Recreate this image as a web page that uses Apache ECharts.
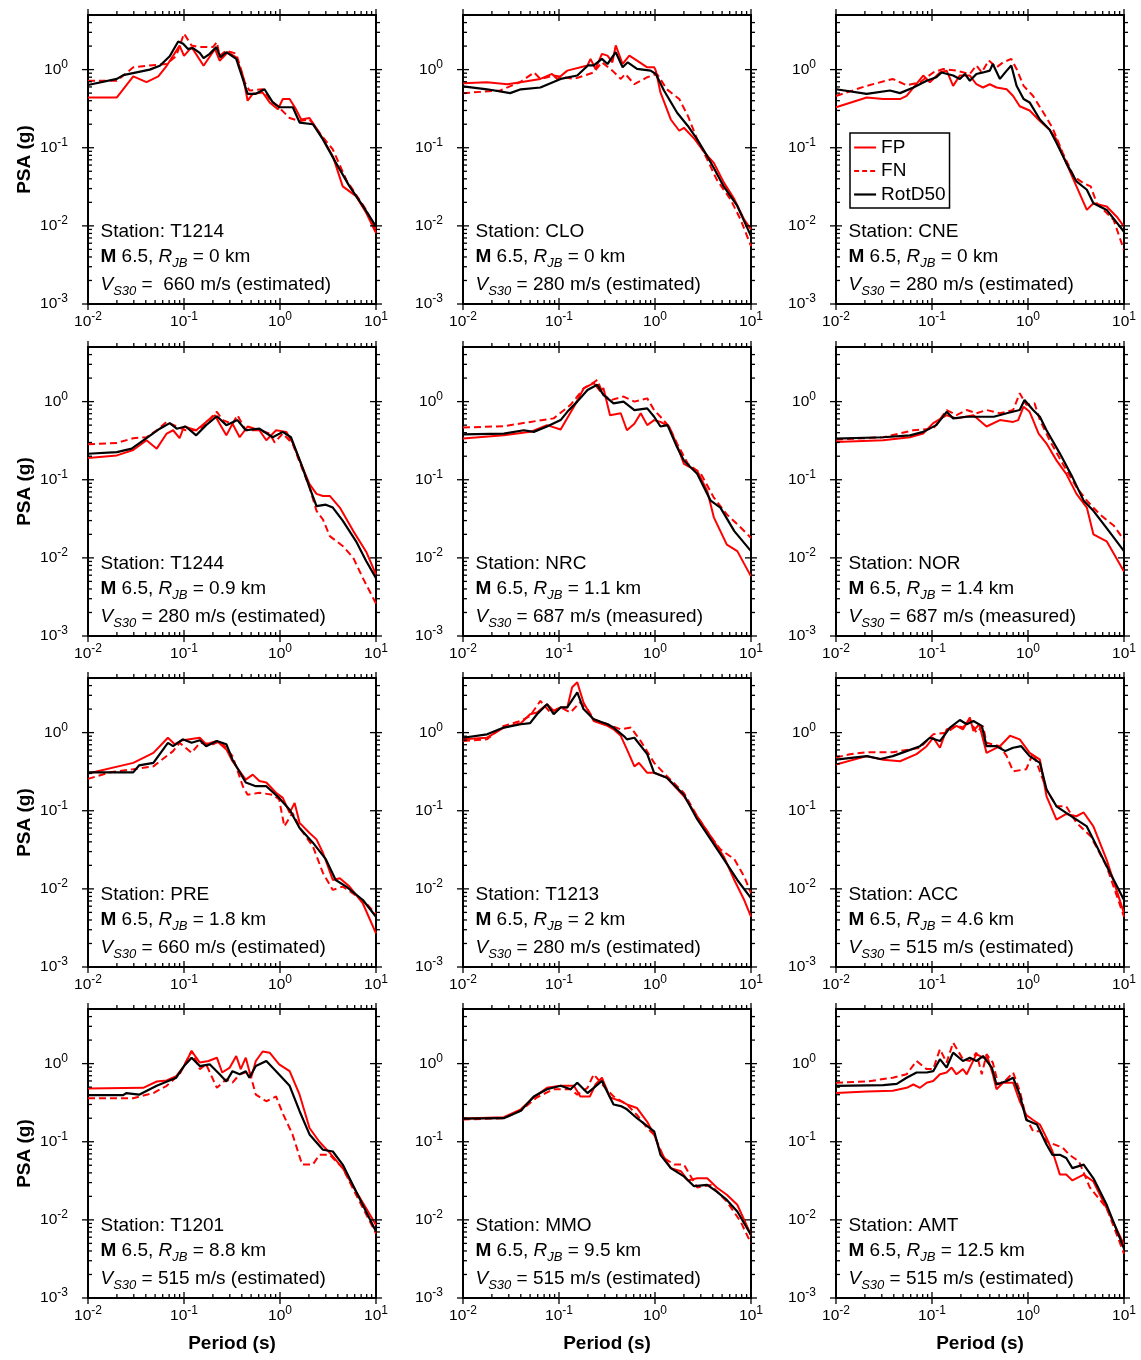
<!DOCTYPE html>
<html><head><meta charset="utf-8">
<script src="https://cdn.jsdelivr.net/npm/echarts@6/dist/echarts.min.js"></script>
<style>html,body{margin:0;padding:0;background:#fff}#c{width:1141px;height:1360px}</style>
</head><body><div id="c"></div><script>
// ---------------- DATA ----------------
const stations = ['T1214','CLO','CNE','T1244','NRC','NOR','PRE','T1213','ACC','T1201','MMO','AMT'];
const rjbKm = ['0','0','0','0.9','1.1','1.4','1.8','2','4.6','8.8','9.5','12.5'];
const vs30 = ['660','280','280','280','687','687','660','280','515','515','515','515'];
const vs30Kind = ['estimated','estimated','estimated','estimated','measured','measured','estimated','estimated','estimated','estimated','estimated','estimated'];
const seriesNames = ['FP','FN','RotD50'];
const xTickValues = [0.01, 0.1, 1, 10];
const yTickValues = [0.001, 0.01, 0.1, 1];

const T1214_FP = [[0.01,0.44],[0.02,0.44],[0.0296,0.82],[0.0407,0.69],[0.054,0.82],[0.066,1.12],[0.09,2.03],[0.1,1.5],[0.12,1.94],[0.16,1.12],[0.21,1.84],[0.235,1.3],[0.286,1.67],[0.35,1.44],[0.41,0.84],[0.46,0.40],[0.52,0.49],[0.66,0.51],[0.78,0.38],[0.95,0.31],[1.07,0.42],[1.26,0.42],[1.47,0.31],[1.66,0.23],[2.03,0.24],[2.57,0.156],[3.55,0.078],[4.5,0.032],[6.2,0.024],[7.9,0.0147],[10,0.0081]];
const T1214_FN = [[0.01,0.72],[0.02,0.72],[0.0296,1.07],[0.0407,1.12],[0.066,1.18],[0.083,1.5],[0.1,2.9],[0.12,2.03],[0.146,1.94],[0.2,1.94],[0.22,2.25],[0.235,1.5],[0.276,1.75],[0.35,1.6],[0.43,0.69],[0.48,0.54],[0.66,0.56],[0.78,0.42],[0.95,0.34],[1.26,0.24],[1.6,0.22],[2.03,0.23],[2.57,0.156],[3.55,0.095],[4.9,0.039],[6.2,0.025],[7.9,0.016],[10,0.0089]];
const T1214_RotD50 = [[0.01,0.635],[0.02,0.76],[0.0233,0.85],[0.044,1.0],[0.056,1.12],[0.071,1.48],[0.087,2.29],[0.098,2.14],[0.11,1.84],[0.124,1.88],[0.146,1.64],[0.16,1.4],[0.185,1.59],[0.217,1.94],[0.24,1.44],[0.276,1.67],[0.35,1.37],[0.41,0.76],[0.46,0.49],[0.56,0.49],[0.69,0.56],[0.84,0.38],[0.98,0.33],[1.36,0.33],[1.6,0.21],[2.2,0.2],[2.8,0.128],[3.8,0.065],[5.3,0.032],[7.3,0.018],[10,0.0098]];

const CLO_FP = [[0.01,0.67],[0.0178,0.69],[0.029,0.65],[0.0397,0.69],[0.064,0.76],[0.0846,0.88],[0.0958,0.76],[0.122,0.97],[0.198,1.13],[0.213,1.37],[0.24,1.02],[0.28,1.59],[0.32,1.51],[0.36,1.24],[0.39,2.04],[0.46,1.18],[0.54,1.51],[0.61,1.37],[0.83,1.07],[0.98,1.07],[1.02,0.97],[1.14,0.51],[1.46,0.23],[1.79,0.165],[2.0,0.18],[2.6,0.128],[3.3,0.086],[4.1,0.064],[5.2,0.036],[6.7,0.022],[8.5,0.012],[10,0.009]];
const CLO_FN = [[0.01,0.50],[0.0245,0.54],[0.04,0.70],[0.055,0.92],[0.064,0.76],[0.088,0.84],[0.143,0.76],[0.23,0.92],[0.28,1.24],[0.36,0.97],[0.44,0.76],[0.49,0.88],[0.61,0.65],[0.83,0.80],[1.05,0.88],[1.33,0.56],[1.79,0.42],[2.2,0.256],[2.75,0.128],[3.5,0.071],[4.4,0.039],[6.1,0.022],[7.8,0.012],[10,0.0055]];
const CLO_RotD50 = [[0.01,0.61],[0.0178,0.56],[0.031,0.50],[0.04,0.56],[0.064,0.59],[0.104,0.76],[0.155,0.84],[0.2,1.13],[0.23,1.13],[0.28,1.37],[0.32,1.18],[0.39,1.67],[0.46,1.07],[0.52,1.24],[0.65,1.02],[0.9,0.97],[1.02,0.88],[1.24,0.54],[1.7,0.28],[2.2,0.19],[2.75,0.128],[3.5,0.078],[4.1,0.055],[5.2,0.032],[7.2,0.018],[10,0.0074]];

const CNE_FP = [[0.01,0.33],[0.0209,0.44],[0.031,0.42],[0.0464,0.42],[0.0544,0.46],[0.064,0.59],[0.081,0.84],[0.095,0.69],[0.121,0.92],[0.142,0.97],[0.166,0.62],[0.195,0.84],[0.248,0.84],[0.29,0.65],[0.34,0.59],[0.4,0.65],[0.47,0.59],[0.6,0.56],[0.70,0.46],[0.82,0.34],[1.04,0.30],[1.33,0.22],[1.68,0.17],[1.98,0.128],[2.5,0.064],[3.2,0.032],[4.1,0.016],[4.8,0.0195],[6.6,0.0177],[8.4,0.0131],[10,0.0098]];
const CNE_FN = [[0.01,0.46],[0.0209,0.62],[0.039,0.76],[0.0544,0.63],[0.075,0.69],[0.103,0.92],[0.131,1.02],[0.18,0.97],[0.248,0.88],[0.29,1.13],[0.33,0.92],[0.39,1.31],[0.47,1.07],[0.55,1.24],[0.67,1.37],[0.76,1.02],[0.9,0.62],[1.13,0.46],[1.45,0.28],[1.8,0.18],[2.3,0.086],[3.0,0.043],[3.8,0.035],[4.5,0.032],[5.2,0.0195],[7.8,0.0119],[10,0.0049]];
const CNE_RotD50 = [[0.01,0.56],[0.0209,0.49],[0.0365,0.54],[0.0464,0.50],[0.064,0.59],[0.088,0.72],[0.111,0.80],[0.126,0.92],[0.166,0.84],[0.195,0.76],[0.22,0.88],[0.248,0.72],[0.29,0.88],[0.34,0.92],[0.4,0.97],[0.43,1.18],[0.51,0.76],[0.6,0.97],[0.67,1.13],[0.76,0.62],[0.9,0.42],[1.04,0.38],[1.33,0.23],[1.68,0.17],[1.98,0.116],[2.5,0.064],[3.2,0.037],[4.1,0.029],[4.8,0.0195],[6.6,0.016],[10,0.0084]];

const T1244_FP = [[0.01,0.19],[0.02,0.205],[0.0296,0.24],[0.0407,0.32],[0.052,0.25],[0.066,0.39],[0.077,0.43],[0.09,0.34],[0.1,0.48],[0.134,0.43],[0.17,0.55],[0.21,0.67],[0.235,0.52],[0.276,0.37],[0.32,0.52],[0.38,0.35],[0.46,0.48],[0.61,0.43],[0.72,0.32],[0.91,0.43],[1.16,0.41],[1.35,0.30],[1.66,0.16],[2.03,0.088],[2.4,0.066],[2.8,0.062],[3.3,0.062],[4.2,0.044],[5.8,0.022],[7.9,0.012],[10,0.0061]];
const T1244_FN = [[0.01,0.284],[0.02,0.296],[0.0296,0.34],[0.0407,0.35],[0.052,0.43],[0.066,0.55],[0.084,0.48],[0.104,0.43],[0.142,0.43],[0.18,0.58],[0.22,0.74],[0.253,0.58],[0.32,0.52],[0.36,0.67],[0.44,0.43],[0.61,0.43],[0.78,0.39],[0.88,0.30],[1.07,0.39],[1.35,0.29],[1.66,0.15],[2.03,0.080],[2.4,0.040],[2.8,0.031],[3.3,0.019],[4.5,0.0142],[5.8,0.0100],[7.3,0.0055],[10,0.0026]];
const T1244_RotD50 = [[0.01,0.215],[0.02,0.226],[0.0285,0.25],[0.0407,0.34],[0.056,0.45],[0.071,0.53],[0.084,0.45],[0.104,0.48],[0.134,0.37],[0.17,0.50],[0.22,0.65],[0.276,0.50],[0.36,0.58],[0.44,0.43],[0.61,0.45],[0.84,0.35],[1.07,0.41],[1.3,0.35],[1.66,0.16],[2.03,0.080],[2.4,0.046],[3.0,0.048],[3.55,0.044],[4.5,0.030],[6.2,0.0163],[7.9,0.0091],[10,0.0055]];

const NRC_FP = [[0.01,0.336],[0.0266,0.37],[0.0504,0.41],[0.075,0.50],[0.104,0.44],[0.143,0.86],[0.182,1.49],[0.23,1.72],[0.27,1.35],[0.29,1.49],[0.34,0.67],[0.44,0.71],[0.51,0.43],[0.61,0.52],[0.71,0.71],[0.83,0.50],[0.98,0.58],[1.14,0.55],[1.4,0.48],[1.7,0.276],[2.0,0.16],[2.35,0.143],[2.75,0.131],[3.5,0.072],[4.1,0.033],[5.6,0.0148],[7.2,0.0122],[10,0.0058]];
const NRC_FN = [[0.01,0.466],[0.0266,0.485],[0.0504,0.55],[0.088,0.61],[0.132,0.91],[0.182,1.49],[0.23,1.76],[0.25,1.9],[0.29,1.22],[0.35,1.05],[0.47,1.16],[0.61,1.0],[0.83,1.10],[0.98,0.78],[1.14,0.64],[1.4,0.48],[1.7,0.29],[2.2,0.16],[3.0,0.12],[4.1,0.059],[5.6,0.036],[7.8,0.0245],[10,0.018]];
const NRC_RotD50 = [[0.01,0.38],[0.0266,0.39],[0.043,0.43],[0.0546,0.41],[0.075,0.48],[0.104,0.58],[0.122,0.74],[0.155,1.0],[0.198,1.41],[0.25,1.64],[0.29,1.22],[0.37,0.95],[0.47,1.0],[0.61,0.78],[0.83,0.82],[0.98,0.64],[1.14,0.48],[1.35,0.5],[1.7,0.26],[2.0,0.176],[2.75,0.119],[3.8,0.054],[4.8,0.044],[6.7,0.022],[10,0.0122]];

const NOR_FP = [[0.01,0.305],[0.031,0.32],[0.059,0.35],[0.081,0.39],[0.103,0.53],[0.142,0.67],[0.18,0.61],[0.27,0.67],[0.37,0.48],[0.51,0.58],[0.70,0.55],[0.79,0.58],[0.9,0.86],[1.04,0.74],[1.13,0.58],[1.29,0.39],[1.56,0.29],[1.98,0.177],[2.5,0.119],[3.2,0.066],[4.1,0.044],[4.8,0.020],[6.6,0.0163],[10,0.0067]];
const NOR_FN = [[0.01,0.326],[0.031,0.35],[0.064,0.43],[0.103,0.45],[0.142,0.78],[0.18,0.67],[0.23,0.78],[0.29,0.71],[0.37,0.78],[0.51,0.71],[0.70,0.78],[0.82,1.28],[0.96,0.91],[1.17,0.95],[1.33,0.58],[1.68,0.32],[2.3,0.16],[3.2,0.080],[4.1,0.054],[5.6,0.036],[7.8,0.026],[10,0.017]];
const NOR_RotD50 = [[0.01,0.336],[0.031,0.35],[0.059,0.37],[0.081,0.41],[0.111,0.50],[0.142,0.74],[0.166,0.61],[0.23,0.64],[0.32,0.64],[0.44,0.64],[0.6,0.71],[0.82,0.78],[0.92,1.05],[1.13,0.78],[1.33,0.64],[1.56,0.43],[2.15,0.216],[2.9,0.108],[3.8,0.054],[4.8,0.040],[6.6,0.024],[10,0.0122]];

const PRE_FP = [[0.01,0.30],[0.0296,0.41],[0.048,0.55],[0.068,0.86],[0.08,0.71],[0.097,0.80],[0.146,0.86],[0.17,0.71],[0.22,0.78],[0.276,0.61],[0.32,0.43],[0.44,0.25],[0.52,0.29],[0.61,0.24],[0.72,0.23],[0.91,0.17],[1.07,0.146],[1.26,0.094],[1.42,0.126],[1.6,0.070],[2.03,0.052],[2.4,0.043],[2.8,0.029],[3.55,0.013],[4.2,0.0137],[5.3,0.0107],[7.3,0.0065],[10,0.0027]];
const PRE_FN = [[0.01,0.256],[0.017,0.31],[0.0296,0.34],[0.048,0.37],[0.077,0.58],[0.09,0.74],[0.12,0.55],[0.146,0.74],[0.2,0.71],[0.24,0.78],[0.32,0.50],[0.41,0.206],[0.46,0.16],[0.61,0.17],[0.84,0.16],[0.98,0.139],[1.11,0.063],[1.35,0.094],[1.66,0.057],[2.2,0.035],[2.8,0.016],[3.55,0.0097],[4.5,0.0107],[5.8,0.0087],[7.9,0.0065],[10,0.0048]];
const PRE_RotD50 = [[0.01,0.31],[0.0296,0.31],[0.034,0.38],[0.048,0.41],[0.068,0.74],[0.077,0.67],[0.097,0.82],[0.12,0.74],[0.146,0.8],[0.17,0.67],[0.22,0.78],[0.276,0.71],[0.32,0.45],[0.44,0.23],[0.56,0.206],[0.72,0.206],[0.98,0.146],[1.26,0.103],[1.6,0.060],[2.2,0.039],[3.0,0.024],[3.8,0.013],[4.9,0.0107],[7.3,0.0072],[10,0.0044]];

const T1213_FP = [[0.01,0.82],[0.0178,0.86],[0.0266,1.16],[0.04,1.32],[0.05,1.72],[0.059,1.81],[0.075,2.31],[0.088,1.9],[0.104,2.1],[0.122,2.1],[0.137,3.8],[0.155,4.4],[0.18,2.43],[0.23,1.41],[0.32,1.22],[0.37,1.1],[0.44,0.91],[0.51,0.61],[0.61,0.37],[0.68,0.41],[0.83,0.306],[0.98,0.306],[1.33,0.264],[2.0,0.153],[2.75,0.085],[3.8,0.047],[5.2,0.026],[6.7,0.0130],[8.5,0.0072],[10,0.0044]];
const T1213_FN = [[0.01,0.78],[0.0178,0.82],[0.0266,1.22],[0.04,1.41],[0.05,1.64],[0.064,2.55],[0.081,1.81],[0.104,2.1],[0.132,1.81],[0.165,2.43],[0.198,2.0],[0.23,1.48],[0.32,1.28],[0.44,1.1],[0.56,1.16],[0.71,0.78],[0.98,0.41],[1.33,0.277],[2.0,0.169],[2.75,0.085],[3.8,0.047],[4.8,0.032],[6.7,0.024],[8.5,0.0144],[10,0.0088]];
const T1213_RotD50 = [[0.01,0.86],[0.0178,0.95],[0.0266,1.16],[0.04,1.28],[0.05,1.32],[0.059,1.72],[0.075,2.31],[0.088,1.72],[0.104,2.1],[0.122,2.1],[0.155,3.27],[0.18,2.0],[0.23,1.48],[0.32,1.28],[0.37,1.16],[0.47,0.91],[0.51,0.82],[0.61,0.86],[0.83,0.53],[0.98,0.306],[1.33,0.264],[2.0,0.16],[2.75,0.078],[3.8,0.043],[5.2,0.024],[7.2,0.0130],[10,0.0076]];

const ACC_FP = [[0.01,0.39],[0.0209,0.50],[0.031,0.45],[0.0464,0.43],[0.069,0.53],[0.088,0.67],[0.103,0.86],[0.121,0.64],[0.142,1.10],[0.18,1.22],[0.21,1.1],[0.248,1.56],[0.27,1.05],[0.31,1.28],[0.37,0.55],[0.51,0.67],[0.65,0.91],[0.82,0.82],[1.04,0.55],[1.33,0.45],[1.56,0.153],[1.98,0.077],[2.5,0.091],[3.2,0.085],[3.8,0.095],[4.8,0.063],[6.6,0.0235],[10,0.0049]];
const ACC_FN = [[0.01,0.48],[0.014,0.53],[0.0209,0.56],[0.039,0.56],[0.059,0.61],[0.075,0.64],[0.103,0.95],[0.142,1.0],[0.18,1.22],[0.21,1.16],[0.248,1.48],[0.29,1.0],[0.34,1.22],[0.37,0.74],[0.51,0.67],[0.6,0.50],[0.70,0.32],[0.96,0.34],[1.13,0.55],[1.56,0.187],[1.98,0.114],[2.5,0.114],[3.2,0.070],[4.5,0.047],[6.6,0.0193],[10,0.0044]];
const ACC_RotD50 = [[0.01,0.45],[0.0209,0.50],[0.029,0.46],[0.039,0.50],[0.0544,0.58],[0.075,0.67],[0.095,0.86],[0.121,0.78],[0.154,1.16],[0.195,1.45],[0.23,1.28],[0.27,1.41],[0.33,1.22],[0.37,0.67],[0.47,0.67],[0.58,0.58],[0.70,0.64],[0.85,0.67],[1.04,0.50],[1.33,0.41],[1.56,0.187],[1.98,0.114],[2.5,0.094],[3.2,0.077],[4.1,0.063],[5.2,0.035],[7.2,0.0158],[10,0.0072]];

const T1201_FP = [[0.01,0.48],[0.0376,0.49],[0.052,0.59],[0.066,0.61],[0.083,0.69],[0.1,0.93],[0.12,1.45],[0.146,1.03],[0.18,1.08],[0.22,1.19],[0.25,0.77],[0.3,0.89],[0.35,1.25],[0.39,0.85],[0.44,1.19],[0.5,0.66],[0.56,1.08],[0.66,1.43],[0.78,1.38],[0.98,0.98],[1.26,0.80],[1.6,0.40],[2.03,0.15],[2.57,0.10],[3.3,0.072],[4.5,0.046],[6.2,0.023],[7.9,0.0141],[10,0.0086]];
const T1201_FN = [[0.01,0.36],[0.0296,0.36],[0.048,0.42],[0.066,0.52],[0.09,0.73],[0.12,1.45],[0.146,0.85],[0.17,0.98],[0.22,0.49],[0.276,0.63],[0.32,0.57],[0.38,0.73],[0.48,0.80],[0.56,0.40],[0.72,0.33],[0.91,0.38],[1.07,0.23],[1.35,0.124],[1.7,0.051],[2.2,0.051],[2.57,0.068],[3.3,0.068],[4.5,0.046],[6.2,0.021],[10,0.0067]];
const T1201_RotD50 = [[0.01,0.395],[0.0233,0.395],[0.025,0.42],[0.034,0.40],[0.052,0.52],[0.083,0.66],[0.1,0.93],[0.12,1.19],[0.146,0.93],[0.185,0.98],[0.235,0.73],[0.276,0.59],[0.32,0.8],[0.38,0.73],[0.44,0.8],[0.48,0.66],[0.56,0.93],[0.72,1.08],[0.91,0.80],[1.26,0.52],[1.6,0.246],[2.03,0.124],[2.8,0.079],[3.55,0.075],[4.5,0.051],[6.2,0.023],[10,0.0071]];

const MMO_FP = [[0.01,0.198],[0.0266,0.206],[0.04,0.26],[0.0546,0.37],[0.075,0.49],[0.104,0.52],[0.143,0.52],[0.167,0.38],[0.21,0.38],[0.24,0.54],[0.28,0.66],[0.34,0.37],[0.44,0.33],[0.51,0.30],[0.65,0.27],[0.83,0.18],[0.98,0.123],[1.14,0.075],[1.46,0.046],[1.86,0.042],[2.2,0.032],[2.75,0.034],[3.5,0.034],[4.4,0.026],[5.6,0.021],[7.2,0.0156],[10,0.0064]];
const MMO_FN = [[0.01,0.192],[0.0266,0.2],[0.04,0.25],[0.059,0.37],[0.088,0.47],[0.132,0.47],[0.155,0.40],[0.198,0.49],[0.23,0.73],[0.29,0.52],[0.37,0.38],[0.51,0.30],[0.65,0.22],[0.83,0.15],[0.98,0.123],[1.24,0.062],[1.59,0.051],[2.0,0.051],[2.75,0.026],[3.8,0.028],[5.6,0.0171],[7.8,0.0095],[10,0.0050]];
const MMO_RotD50 = [[0.01,0.198],[0.0266,0.2],[0.04,0.25],[0.0546,0.38],[0.075,0.47],[0.104,0.52],[0.132,0.47],[0.155,0.57],[0.198,0.42],[0.23,0.49],[0.28,0.6],[0.37,0.30],[0.44,0.286],[0.51,0.26],[0.65,0.2],[0.83,0.158],[0.98,0.136],[1.14,0.068],[1.46,0.046],[2.0,0.036],[2.55,0.027],[3.5,0.028],[4.4,0.023],[5.6,0.018],[7.2,0.0128],[10,0.0064]];

const AMT_FP = [[0.01,0.42],[0.0209,0.44],[0.039,0.45],[0.0544,0.49],[0.064,0.54],[0.075,0.49],[0.088,0.57],[0.103,0.60],[0.121,0.73],[0.142,0.77],[0.16,0.89],[0.18,0.73],[0.21,0.85],[0.23,0.73],[0.29,1.32],[0.34,1.19],[0.38,1.19],[0.43,0.73],[0.47,0.47],[0.55,0.57],[0.70,0.57],[0.82,0.33],[0.96,0.22],[1.13,0.19],[1.33,0.166],[1.56,0.112],[1.8,0.075],[2.15,0.038],[2.5,0.038],[2.9,0.032],[3.8,0.038],[4.8,0.031],[6.6,0.0141],[10,0.0048]];
const AMT_FN = [[0.01,0.57],[0.0209,0.59],[0.039,0.66],[0.0544,0.73],[0.069,1.08],[0.088,0.85],[0.103,0.85],[0.121,1.53],[0.142,1.03],[0.166,1.86],[0.21,1.14],[0.248,1.08],[0.29,1.38],[0.33,0.73],[0.37,1.32],[0.43,1.03],[0.49,0.54],[0.6,0.63],[0.70,0.77],[0.82,0.45],[0.96,0.2],[1.13,0.136],[1.33,0.136],[1.56,0.101],[1.9,0.092],[2.3,0.084],[2.7,0.068],[3.4,0.056],[4.4,0.026],[6.6,0.0141],[10,0.0037]];
const AMT_RotD50 = [[0.01,0.52],[0.031,0.53],[0.043,0.55],[0.0544,0.66],[0.069,0.77],[0.088,0.77],[0.103,0.80],[0.121,1.14],[0.142,0.89],[0.166,1.38],[0.21,1.08],[0.248,1.19],[0.29,1.08],[0.34,1.25],[0.42,0.89],[0.47,0.54],[0.6,0.6],[0.70,0.66],[0.82,0.40],[0.96,0.19],[1.24,0.166],[1.56,0.092],[1.8,0.068],[2.15,0.068],[2.5,0.062],[2.9,0.046],[3.8,0.051],[4.8,0.034],[6.6,0.0156],[10,0.0043]];

const fpSets = [T1214_FP, CLO_FP, CNE_FP, T1244_FP, NRC_FP, NOR_FP, PRE_FP, T1213_FP, ACC_FP, T1201_FP, MMO_FP, AMT_FP];
const fnSets = [T1214_FN, CLO_FN, CNE_FN, T1244_FN, NRC_FN, NOR_FN, PRE_FN, T1213_FN, ACC_FN, T1201_FN, MMO_FN, AMT_FN];
const rotSets = [T1214_RotD50, CLO_RotD50, CNE_RotD50, T1244_RotD50, NRC_RotD50, NOR_RotD50, PRE_RotD50, T1213_RotD50, ACC_RotD50, T1201_RotD50, MMO_RotD50, AMT_RotD50];

// ---------------- LAYOUT ----------------
const FF = '"Liberation Sans", Arial, Helvetica, sans-serif';
const colLeft = [88, 463, 836];
const rowTop = [15, 347, 678, 1009];
const GW = 288, GH = 289;
const X_MIN = 0.01, X_MAX = 10, Y_MIN = 0.001, Y_MAX = 5;
const DASH = [7, 4];

function minorTicks(lo, hi) {
  const out = [];
  for (let e = Math.floor(Math.log10(lo)); e <= Math.ceil(Math.log10(hi)); e++) {
    for (let k = 2; k <= 9; k++) {
      const v = k * Math.pow(10, e);
      if (v > lo * 1.0001 && v < hi * 0.9999) out.push(v);
    }
  }
  return out;
}
const xTickData = xTickValues.map(v => [v, 1, 1]).concat(minorTicks(X_MIN, X_MAX).map(v => [v, 1, 0]));
const yTickData = yTickValues.map(v => [0.1, v, 1]).concat(minorTicks(Y_MIN, Y_MAX).map(v => [0.1, v, 0]));

const MAJ = 6, MIN = 4, TW = 1.3;
function renderXTick(params, api) {
  const p = api.coord([api.value(0), 1]);
  const cs = params.coordSys;
  const major = api.value(2) === 1;
  const len = major ? MAJ : MIN;
  const st = { stroke: '#000', lineWidth: TW };
  const yb = cs.y + cs.height, yt = cs.y;
  return { type: 'group', children: [
    { type: 'line', shape: { x1: p[0], y1: yb + (major ? len : 0), x2: p[0], y2: yb - len }, style: st },
    { type: 'line', shape: { x1: p[0], y1: yt + (major ? len : 0), x2: p[0], y2: yt - len }, style: st }
  ]};
}
function renderYTick(params, api) {
  const p = api.coord([0.1, api.value(1)]);
  const cs = params.coordSys;
  const major = api.value(2) === 1;
  const len = major ? MAJ : MIN;
  const st = { stroke: '#000', lineWidth: TW };
  const xl = cs.x, xr = cs.x + cs.width;
  return { type: 'group', children: [
    { type: 'line', shape: { x1: xl - (major ? len : 0), y1: p[1], x2: xl + len, y2: p[1] }, style: st },
    { type: 'line', shape: { x1: xr - (major ? len : 0), y1: p[1], x2: xr + len, y2: p[1] }, style: st }
  ]};
}

function powLabel(v) {
  const e = Math.round(Math.log10(v));
  if (Math.abs(v / Math.pow(10, e) - 1) > 1e-6) return '';
  return '{b|10}{s|' + e + '}';
}
const labelRich = {
  b: { fontSize: 15.5, fontFamily: FF, lineHeight: 22, color: '#000' },
  s: { fontSize: 12, fontFamily: FF, lineHeight: 11, verticalAlign: 'top', color: '#000' }
};

const grids = [], xAxes = [], yAxes = [], series = [], graphics = [];
const textRich = {
  t: { fontSize: 19, fontFamily: FF, lineHeight: 26, fill: '#000' },
  bd: { fontSize: 19, fontFamily: FF, fontWeight: 'bold', lineHeight: 26, fill: '#000' },
  it: { fontSize: 19, fontFamily: FF, fontStyle: 'italic', lineHeight: 26, fill: '#000' },
  sub: { fontSize: 13, fontFamily: FF, fontStyle: 'italic', lineHeight: 13, verticalAlign: 'bottom', fill: '#000' }
};

for (let i = 0; i < 12; i++) {
  const col = i % 3, row = Math.floor(i / 3);
  grids.push({ left: colLeft[col], top: rowTop[row], width: GW, height: GH, show: true,
    borderColor: '#000', borderWidth: 2, backgroundColor: 'transparent', containLabel: false });
  xAxes.push({
    type: 'log', logBase: 10, gridIndex: i, min: X_MIN, max: X_MAX,
    axisLine: { show: false }, axisTick: { show: false }, splitLine: { show: false },
    axisLabel: { formatter: powLabel, rich: labelRich, margin: 7, showMinLabel: true, showMaxLabel: true, hideOverlap: false },
    name: row === 3 ? 'Period (s)' : '', nameLocation: 'middle', nameGap: 36,
    nameTextStyle: { fontFamily: FF, fontSize: 19, fontWeight: 'bold', color: '#000' }
  });
  yAxes.push({
    type: 'log', logBase: 10, gridIndex: i, min: Y_MIN, max: Y_MAX,
    axisLine: { show: false }, axisTick: { show: false }, splitLine: { show: false },
    axisLabel: { formatter: powLabel, rich: labelRich, margin: 20, showMinLabel: true, showMaxLabel: true, hideOverlap: false },
    name: col === 0 ? 'PSA (g)' : '', nameLocation: 'middle', nameGap: 54,
    nameTextStyle: { fontFamily: FF, fontSize: 19, fontWeight: 'bold', color: '#000' }
  });
  series.push({ type: 'line', name: 'FP', xAxisIndex: i, yAxisIndex: i, data: fpSets[i], symbol: 'none', showSymbol: false,
    lineStyle: { color: '#ff0000', width: 2 }, itemStyle: { color: '#ff0000' }, z: 3 });
  series.push({ type: 'line', name: 'FN', xAxisIndex: i, yAxisIndex: i, data: fnSets[i], symbol: 'none', showSymbol: false,
    lineStyle: { color: '#ff0000', width: 2, type: DASH }, itemStyle: { color: '#ff0000' }, z: 3 });
  series.push({ type: 'line', name: 'RotD50', xAxisIndex: i, yAxisIndex: i, data: rotSets[i], symbol: 'none', showSymbol: false,
    lineStyle: { color: '#000', width: 2.2 }, itemStyle: { color: '#000' }, z: 4 });
  series.push({ type: 'custom', name: 'xticks' + i, xAxisIndex: i, yAxisIndex: i, data: xTickData, renderItem: renderXTick, clip: false, silent: true, z: 5 });
  series.push({ type: 'custom', name: 'yticks' + i, xAxisIndex: i, yAxisIndex: i, data: yTickData, renderItem: renderYTick, clip: false, silent: true, z: 5 });

  const tx = colLeft[col] + 12.5, top = rowTop[row];
  const gap = i === 0 ? '  ' : ' ';
  graphics.push({ type: 'text', x: tx, y: top + 216.5 - 13, z: 10,
    style: { text: '{t|Station: ' + stations[i] + '}', rich: textRich, verticalAlign: 'top', align: 'left', fill: '#000' } });
  graphics.push({ type: 'text', x: tx, y: top + 241.5 - 13, z: 10,
    style: { text: '{bd|M}{t| 6.5, }{it|R}{sub|JB}{t| = ' + rjbKm[i] + ' km}', rich: textRich, verticalAlign: 'top', align: 'left', fill: '#000' } });
  graphics.push({ type: 'text', x: tx, y: top + 270 - 13, z: 10,
    style: { text: '{it|V}{sub|S30}{t| =' + gap + vs30[i] + ' m/s (' + vs30Kind[i] + ')}', rich: textRich, verticalAlign: 'top', align: 'left', fill: '#000' } });
}

const option = {
  backgroundColor: '#fff',
  animation: false,
  textStyle: { fontFamily: FF, color: '#000' },
  grid: grids, xAxis: xAxes, yAxis: yAxes, series: series,
  graphic: graphics,
  legend: {
    data: [
      { name: 'FP', lineStyle: { color: '#ff0000', width: 2, type: 'solid' } },
      { name: 'FN', lineStyle: { color: '#ff0000', width: 2, type: [5, 3] } },
      { name: 'RotD50', lineStyle: { color: '#000', width: 2.2, type: 'solid' } }
    ],
    orient: 'vertical', left: 850, top: 133,
    itemWidth: 22, itemHeight: 14, itemGap: 4.5, padding: [5, 4, 4, 3],
    borderColor: '#000', borderWidth: 1.5, backgroundColor: '#fff',
    itemStyle: { opacity: 0, borderWidth: 0 },
    textStyle: { fontFamily: FF, fontSize: 19, color: '#000', padding: [0, 0, 0, 0] },
    selectedMode: false, z: 20
  }
};
const chart = echarts.init(document.getElementById('c'), null, { renderer: 'canvas' });
chart.setOption(option);
</script></body></html>
